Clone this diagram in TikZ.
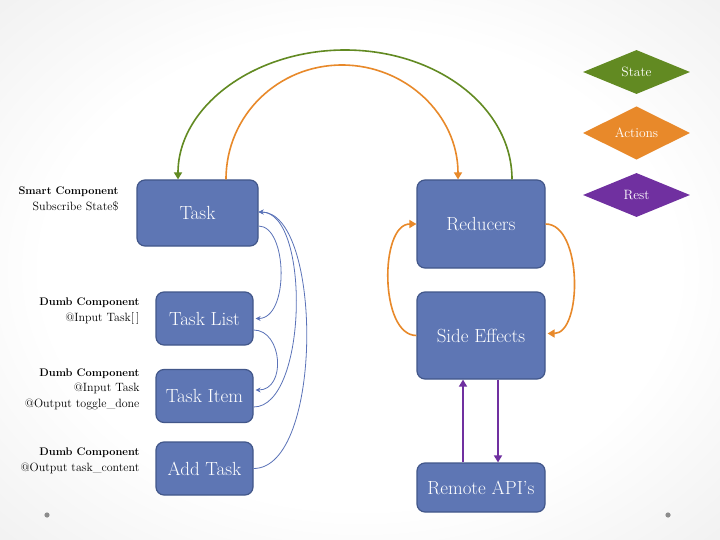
\documentclass[tikz,border=0pt]{standalone}
\usetikzlibrary{shapes.geometric,arrows.meta}
\definecolor{boxfill}{HTML}{5E76B4}
\definecolor{boxline}{HTML}{42578A}
\definecolor{stgreen}{HTML}{628A22}
\definecolor{acorange}{HTML}{E8892A}
\definecolor{rspurple}{HTML}{7030A0}
\definecolor{linkblue}{HTML}{5A72B8}
\pgfdeclareradialshading{bgshade}{\pgfpoint{0bp}{0bp}}{color(0bp)=(white); color(22bp)=(white); color(50bp)=(black!11); color(72bp)=(black!19)}
\begin{document}
\begin{tikzpicture}[x=1pt,y=-1pt,
  comp/.style={draw=boxline,line width=1.2pt,fill=boxfill,rounded corners=8pt,text=white,font=\fontsize{19}{22}\selectfont,inner sep=0pt},
  legend/.style={diamond,inner sep=0pt,minimum width=107pt,minimum height=44pt,text=white,font=\fontsize{13.5}{16}\selectfont},
  sidelabel/.style={anchor=east,align=right,font=\fontsize{12}{15.5}\selectfont},
  bigarrow/.style={line width=1.6pt,-{Triangle[width=8pt,length=7pt]}},
  thinarrow/.style={draw=linkblue,line width=0.8pt,-{Stealth[width=5pt,length=5pt]}}]
\useasboundingbox (0,0) rectangle (720,540);
\shade[shading=bgshade] (0,0) rectangle (720,540);
\fill[black!45] (47,515) circle (2.6pt);
\fill[black!45] (668,515) circle (2.6pt);

% component nodes
\node[comp,minimum width=121pt,minimum height=66pt] (task) at (197.5,213) {Task};
\node[comp,minimum width=97pt,minimum height=53pt] (tasklist) at (204.5,318.5) {Task List};
\node[comp,minimum width=97pt,minimum height=53pt] (taskitem) at (204.5,396) {Task Item};
\node[comp,minimum width=97pt,minimum height=53pt] (addtask) at (204.5,468.5) {Add Task};
\node[comp,minimum width=128pt,minimum height=88pt] (reducers) at (481,224) {Reducers};
\node[comp,minimum width=128pt,minimum height=87pt] (sideeffects) at (481,335.5) {Side Effects};
\node[comp,minimum width=128pt,minimum height=49pt] (remote) at (481,487.5) {Remote API's};

% legend
\node[legend,fill=stgreen] (lstate) at (636.5,72) {State};
\node[legend,fill=acorange] (lactions) at (636.5,133) {Actions};
\node[legend,fill=rspurple] (lrest) at (636.5,195) {Rest};

% side labels
\node[sidelabel] (lbtask) at (122,199) {{\fontsize{11}{15.5}\selectfont\textbf{Smart Component}}\\Subscribe State\$};
\node[sidelabel] (lblist) at (143,311) {{\fontsize{11}{15.5}\selectfont\textbf{Dumb Component}}\\@Input Task[\,]};
\node[sidelabel] (lbitem) at (143,389) {{\fontsize{11}{15.5}\selectfont\textbf{Dumb Component}}\\@Input Task\\@Output toggle\_done};
\node[sidelabel] (lbadd) at (143,461) {{\fontsize{11}{15.5}\selectfont\textbf{Dumb Component}}\\@Output task\_content};

% arc peaks
\coordinate (gtop) at (345,50);
\coordinate (otop) at (342,65);

% state / actions arcs
\draw[bigarrow,draw=stgreen] ([xshift=31pt]reducers.north) .. controls +(0,-72) and +(92,0) .. (gtop) .. controls +(-92,0) and +(0,-72) .. ([xshift=-19.5pt]task.north);
\draw[bigarrow,draw=acorange] ([xshift=28.5pt]task.north) .. controls +(0,-64) and +(-64,0) .. (otop) .. controls +(64,0) and +(0,-64) .. ([xshift=-23pt]reducers.north);
\draw[bigarrow,draw=acorange] (reducers.east) .. controls +(37,0) and +(35,0) .. ([xshift=2pt,yshift=2pt]sideeffects.east);
\draw[bigarrow,draw=acorange] (sideeffects.west) .. controls +(-37,0) and +(-37,0) .. (reducers.west);

% rest arrows
\draw[bigarrow,draw=rspurple] ([xshift=-18pt]remote.north) -- ([xshift=-18pt]sideeffects.south);
\draw[bigarrow,draw=rspurple] ([xshift=17pt]sideeffects.south) -- ([xshift=17pt]remote.north);

% component links
\draw[thinarrow] ([yshift=-13pt]task.east) .. controls +(29,0) and +(34,0) .. ([xshift=2pt]tasklist.east);
\draw[thinarrow] ([yshift=-11.5pt]tasklist.east) .. controls +(29,0) and +(31,0) .. ([xshift=2pt,yshift=6pt]taskitem.east);
\draw[thinarrow] ([yshift=-11pt]taskitem.east) .. controls +(54,0) and +(52,0) .. ([yshift=1pt]task.east);
\draw[thinarrow] (addtask.east) .. controls +(70,0) and +(64,0) .. ([yshift=1pt]task.east);
\end{tikzpicture}
\end{document}
